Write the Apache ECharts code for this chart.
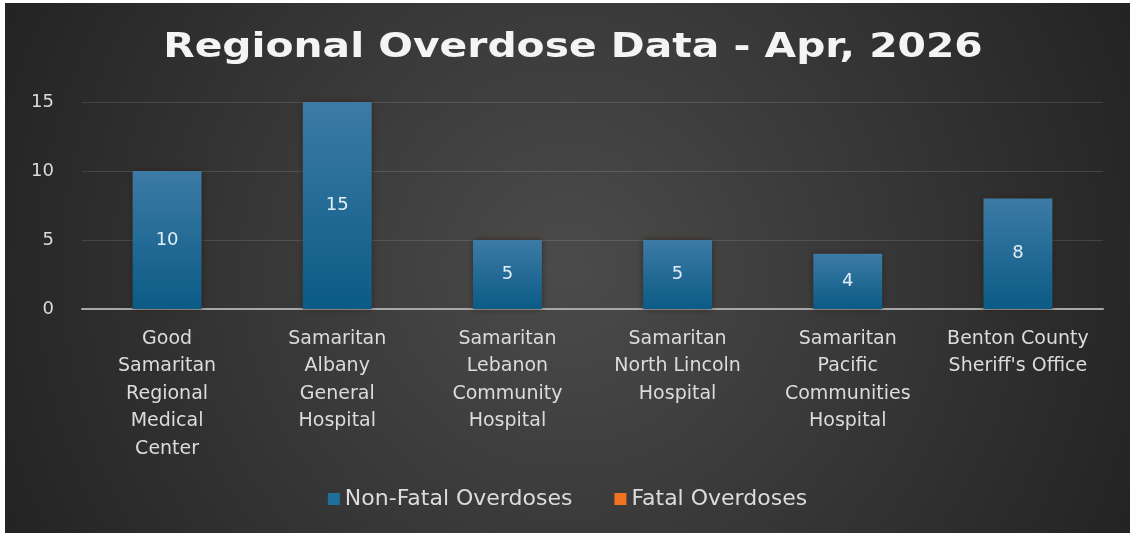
<!DOCTYPE html>
<html>
<head>
<meta charset="utf-8">
<script src="https://cdn.jsdelivr.net/npm/echarts@6/dist/echarts.min.js"></script>
<style>
html,body{margin:0;padding:0;background:#ffffff;}
#chart{position:absolute;left:5px;top:3px;width:1125px;height:530px;}
</style>
</head>
<body>
<div id="chart"></div>
<script>
const titleText = 'Regional Overdose Data - Apr, 2026';
const categories = [
  'Good\nSamaritan\nRegional\nMedical\nCenter',
  'Samaritan\nAlbany\nGeneral\nHospital',
  'Samaritan\nLebanon\nCommunity\nHospital',
  'Samaritan\nNorth Lincoln\nHospital',
  'Samaritan\nPacific\nCommunities\nHospital',
  "Benton County\nSheriff's Office"
];
const nonFatal = [10, 15, 5, 5, 4, 8];
const fatal = [0, 0, 0, 0, 0, 0];
const seriesNames = ['Non-Fatal Overdoses', 'Fatal Overdoses'];
const yTicks = [0, 5, 10, 15];

const chart = echarts.init(document.getElementById('chart'));
const fontFamily = '"DejaVu Sans", sans-serif';
chart.setOption({
  animation: false,
  backgroundColor: {
    type: 'radial', x: 0.5, y: 0.5, r: 1.15,
    colorStops: [{offset: 0, color: '#4b4b4b'}, {offset: 1, color: '#242424'}]
  },
  graphic: [{
    type: 'text',
    x: 568, y: 45,
    scaleX: 1.2,
    style: {
      text: titleText,
      fill: '#f4f4f4',
      font: 'bold 34px "DejaVu Sans", sans-serif',
      textAlign: 'center',
      textVerticalAlign: 'middle'
    }
  }],
  legend: {
    bottom: 18,
    left: 'center',
    itemWidth: 12,
    itemHeight: 12,
    itemGap: 42,
    icon: 'rect',
    textStyle: {color: '#dcdcdc', fontSize: 22, fontFamily: fontFamily},
    data: [
      {name: seriesNames[0], itemStyle: {color: '#1f6e9c'}},
      {name: seriesNames[1], itemStyle: {color: '#f07323'}}
    ]
  },
  grid: {left: 77, right: 27, top: 99, bottom: 224, containLabel: false},
  xAxis: {
    type: 'category',
    data: categories,
    axisLine: {lineStyle: {color: '#a8a8a8', width: 2}},
    axisTick: {show: false},
    axisLabel: {
      interval: 0, margin: 16, color: '#dcdcdc', fontSize: 19,
      lineHeight: 27.5, fontFamily: fontFamily, align: 'center'
    }
  },
  yAxis: {
    type: 'value',
    min: yTicks[0], max: yTicks[yTicks.length - 1], interval: 5,
    axisLine: {show: false},
    axisTick: {show: false},
    splitLine: {lineStyle: {color: 'rgba(255,255,255,0.12)', width: 1}},
    axisLabel: {margin: 28, color: '#dcdcdc', fontSize: 18, fontFamily: fontFamily}
  },
  series: [
    {
      name: seriesNames[0],
      type: 'bar',
      stack: 'total',
      barWidth: '40.5%',
      data: nonFatal,
      itemStyle: {
        color: {
          type: 'linear', x: 0, y: 0, x2: 0, y2: 1,
          colorStops: [{offset: 0, color: '#3c7ba6'}, {offset: 1, color: '#0b5b86'}]
        },
        shadowColor: 'rgba(40,20,5,0.6)', shadowBlur: 6
      },
      label: {
        show: true, position: 'inside', color: '#e2eef6',
        fontSize: 18, fontFamily: fontFamily
      }
    },
    {
      name: seriesNames[1],
      type: 'bar',
      stack: 'total',
      data: fatal,
      itemStyle: {color: '#f07323'},
      label: {show: false}
    }
  ]
});
</script>
</body>
</html>
